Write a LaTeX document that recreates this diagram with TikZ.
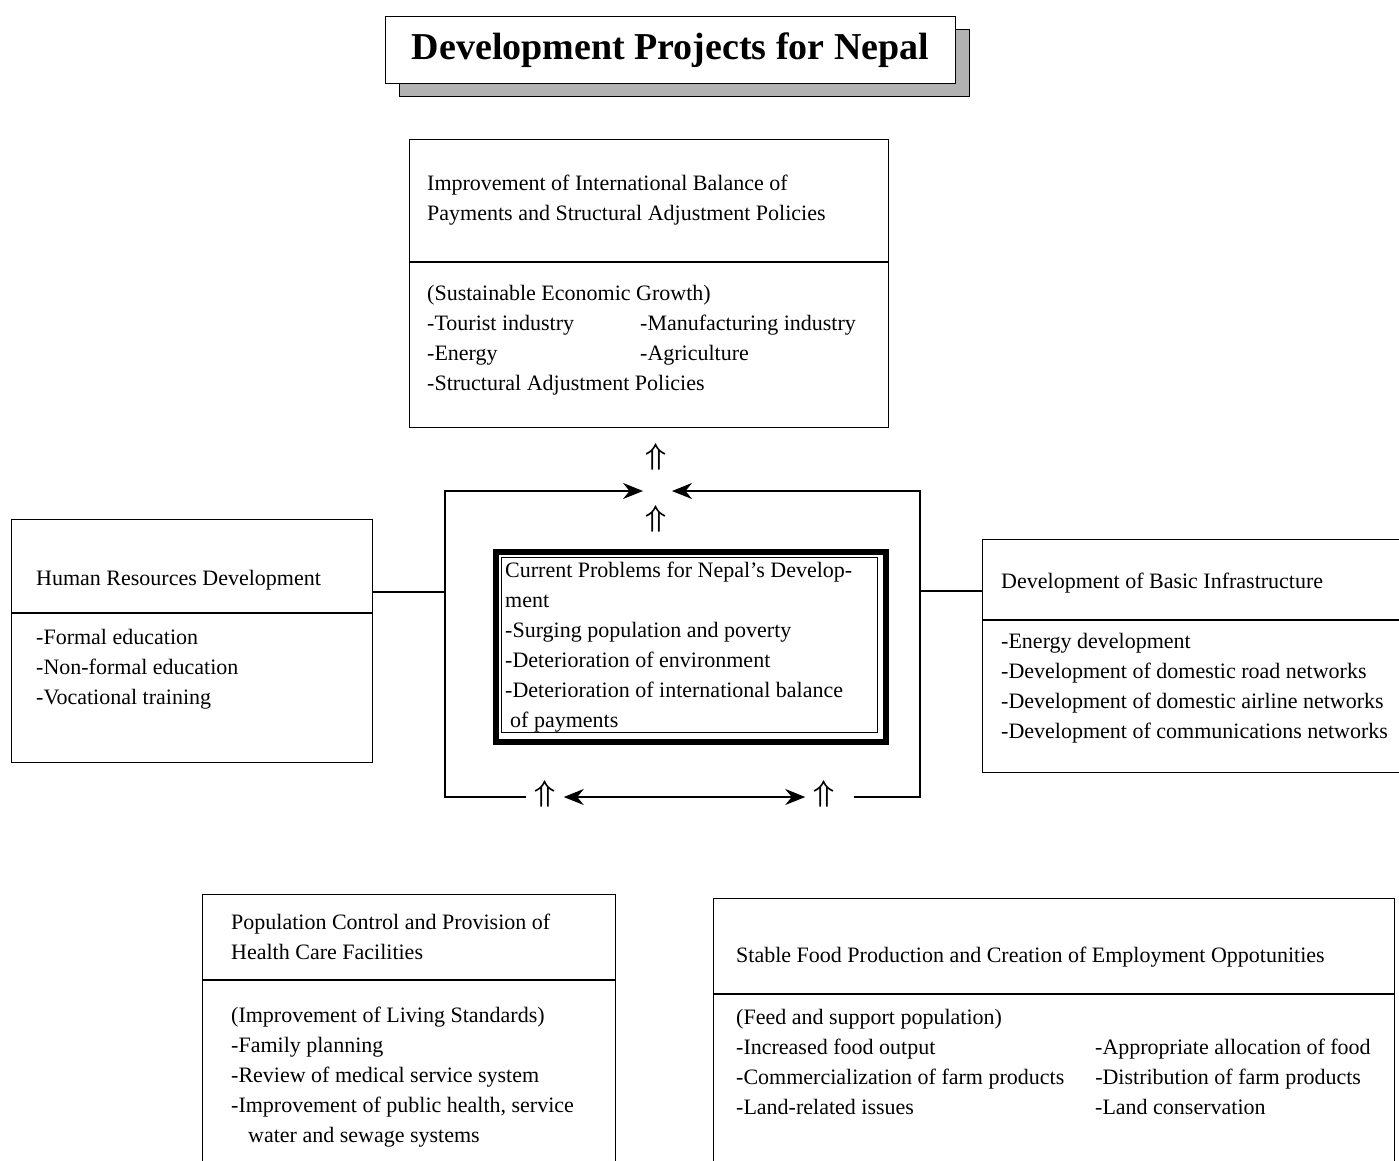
\documentclass[tikz,border=0pt]{standalone}
\usepackage{amsmath}
\usepackage{fontspec}
\usepackage{graphicx}
\setmainfont{Liberation Serif}
\usetikzlibrary{arrows.meta,shadows}

\begin{document}
\begin{tikzpicture}[x=1pt,y=-1pt,
	box/.style={draw,line width=1.1pt,rectangle,anchor=north west,inner sep=0pt},
	txt/.style={anchor=north west,inner sep=0pt,align=left,font=\fontsize{22}{30}\selectfont},
	arr/.style={line width=1.1pt,-{Stealth[length=20pt,width=16pt]}},
	darr/.style={line width=1.1pt,{Stealth[length=20pt,width=16pt]}-{Stealth[length=20pt,width=16pt]}},
	uarr/.style={inner sep=8pt}]
	\useasboundingbox (0,0) rectangle (1399,1160);
	% title
	\node[box,fill=white,minimum width=570pt,minimum height=67pt,font=\fontsize{38}{40}\selectfont\bfseries,
		drop shadow={shadow xshift=14pt,shadow yshift=-13pt,fill=black!30,draw=black,line width=0.8pt,opacity=1}] (title) at (385,16) {Development Projects for Nepal};
	% balance of payments
	\node[box,minimum width=479pt,minimum height=122pt] (bopH) at (409,139) {};
	\node[box,minimum width=479pt,minimum height=165pt] (bopB) at (bopH.south west) {};
	\node[txt] (bopHt) at (427,169) {\strut Improvement of International Balance of\\Payments and Structural Adjustment Policies};
	\node[txt] (bopBt) at (427,279) {\strut (Sustainable Economic Growth)\\
		\makebox[213pt][l]{-Tourist industry}-Manufacturing industry\\
		\makebox[213pt][l]{-Energy}-Agriculture\\
		-Structural Adjustment Policies};
	% human resources
	\node[box,minimum width=361pt,minimum height=93pt] (hrdH) at (11,519) {};
	\node[box,minimum width=361pt,minimum height=149pt] (hrdB) at (hrdH.south west) {};
	\node[txt] (hrdHt) at (36,564) {\strut Human Resources Development};
	\node[txt] (hrdBt) at (36,623) {\strut -Formal education\\-Non-formal education\\-Vocational training};
	% infrastructure
	\node[box,minimum width=440pt,minimum height=80pt] (infH) at (982,539) {};
	\node[box,minimum width=440pt,minimum height=152pt] (infB) at (infH.south west) {};
	\node[txt] (infHt) at (1001,567) {\strut Development of Basic Infrastructure};
	\node[txt] (infBt) at (1001,627) {\strut -Energy development\\-Development of domestic road networks\\
		-Development of domestic airline networks\\-Development of communications networks};
	% population and health
	\node[box,minimum width=413pt,minimum height=85pt] (popH) at (202,894) {};
	\node[box,minimum width=413pt,minimum height=200pt] (popB) at (popH.south west) {};
	\node[txt] (popHt) at (231,908) {\strut Population Control and Provision of\\Health Care Facilities};
	\node[txt] (popBt) at (231,1001) {\strut (Improvement of Living Standards)\\-Family planning\\
		-Review of medical service system\\-Improvement of public health, service\\
		\hspace*{17pt}water and sewage systems};
	% food and employment
	\node[box,minimum width=681pt,minimum height=95pt] (fodH) at (713,898) {};
	\node[box,minimum width=681pt,minimum height=200pt] (fodB) at (fodH.south west) {};
	\node[txt] (fodHt) at (736,941) {\strut Stable Food Production and Creation of Employment Oppotunities};
	\node[txt] (fodBt) at (736,1003) {\strut (Feed and support population)\\
		\makebox[359pt][l]{-Increased food output}-Appropriate allocation of food\\
		\makebox[359pt][l]{-Commercialization of farm products}-Distribution of farm products\\
		\makebox[359pt][l]{-Land-related issues}-Land conservation};
	% current problems
	\node[box,line width=6pt,minimum width=390pt,minimum height=190pt] (curO) at (493,549) {};
	\node[box,line width=1.2pt,minimum width=376pt,minimum height=175pt] (curI) at (501,557) {};
	\node[txt] (curt) at (505,556) {\strut Current Problems for Nepal's Develop-\\ment\\-Surging population and poverty\\
		-Deterioration of environment\\-Deterioration of international balance\\\hspace*{5pt}of payments};
	% loop round the problems
	\coordinate (fNW) at (445,491);
	\coordinate (fNE) at (920,491);
	\coordinate (fSW) at (445,797);
	\coordinate (fSE) at (920,797);
	\coordinate (meet) at (657,491);
	\node[uarr] (upTop) at (656,457) {\scalebox{3}{$\boldsymbol{\Uparrow}$}};
	\node[uarr] (upMid) at (656,519) {\scalebox{3}{$\boldsymbol{\Uparrow}$}};
	\node[uarr] (upL) at (545,794) {\scalebox{3}{$\boldsymbol{\Uparrow}$}};
	\node[uarr] (upR) at (824,794) {\scalebox{3}{$\boldsymbol{\Uparrow}$}};
	\draw[arr] (upL.west |- fSW) -- (fSW) -- (fNW) -- ([xshift=-14pt]meet);
	\draw[arr] ([xshift=11pt]upR.east |- fSE) -- (fSE) -- (fNE) -- ([xshift=15pt]meet);
	\draw[darr] (upL.east |- fSW) -- (upR.west |- fSE);
	% side links
	\coordinate (jL) at (445,592);
	\coordinate (jR) at (920,591);
	\draw[line width=1.1pt] (hrdH.east |- jL) -- (jL);
	\draw[line width=1.1pt] (jR) -- (infH.west |- jR);
\end{tikzpicture}
\end{document}
